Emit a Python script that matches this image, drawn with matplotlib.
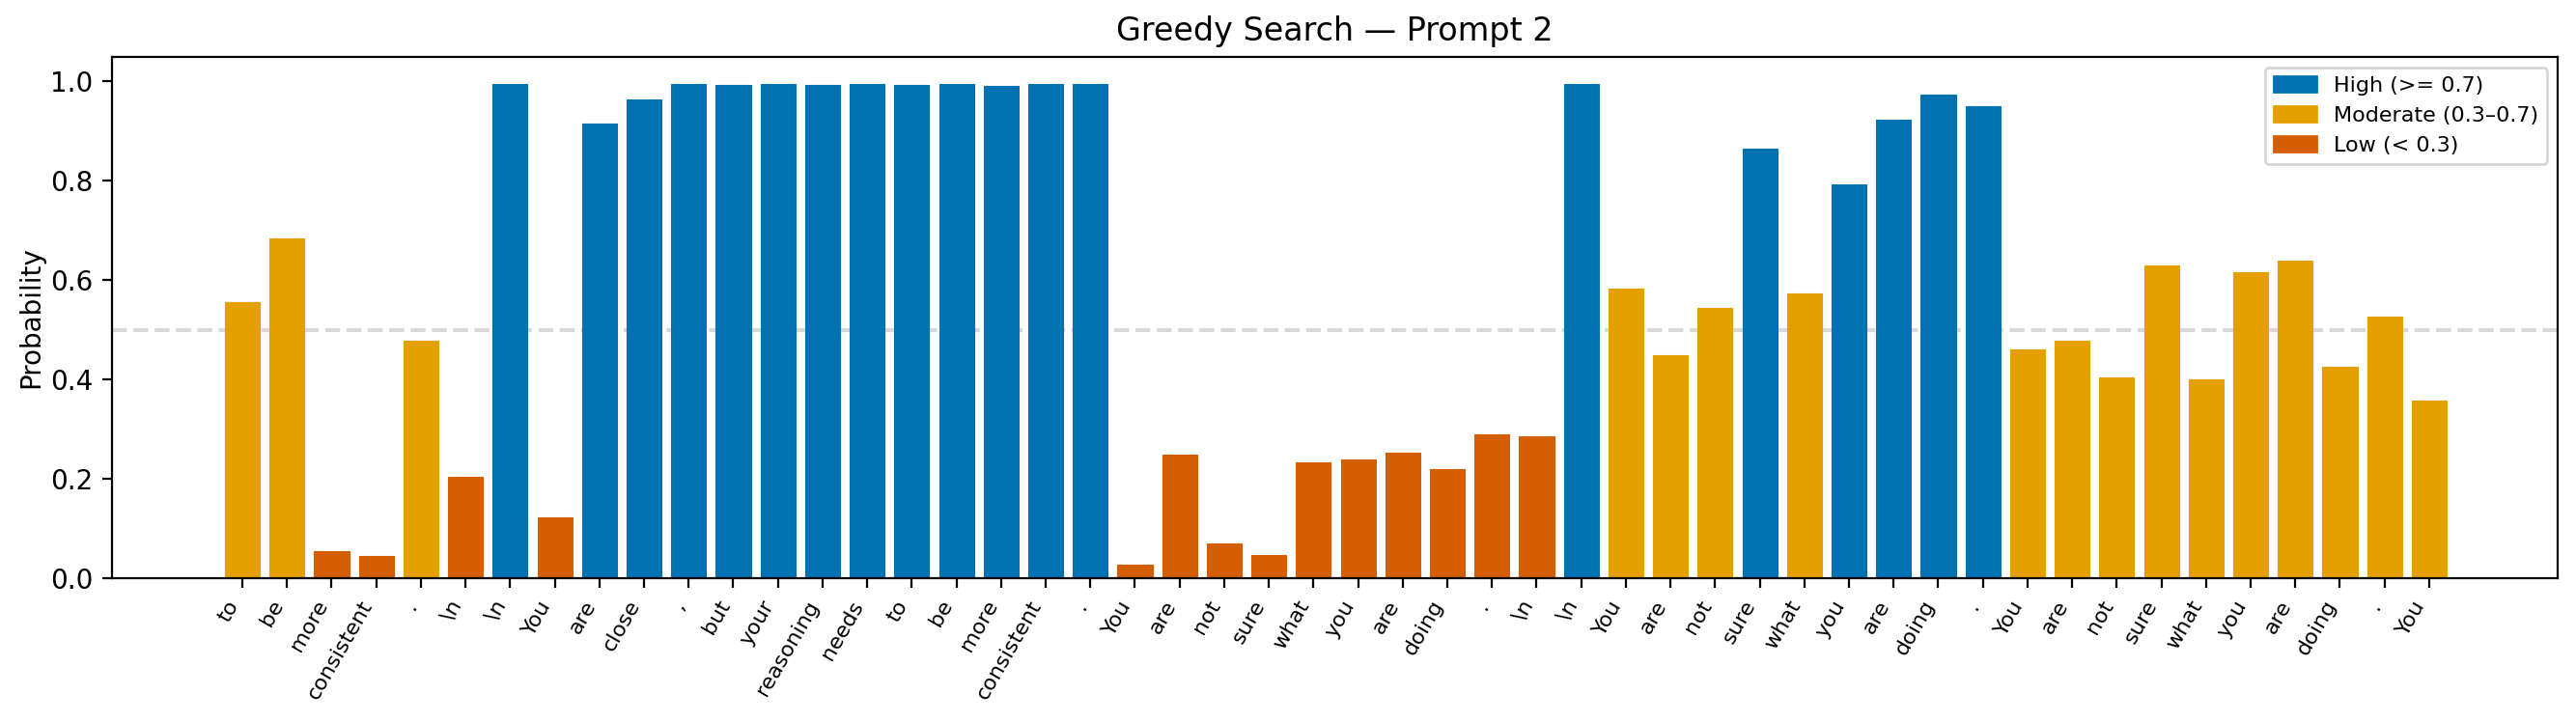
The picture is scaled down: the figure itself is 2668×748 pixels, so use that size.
import matplotlib
matplotlib.use("Agg")
import matplotlib.pyplot as plt
from matplotlib.patches import Patch

tokens = ["to", "be", "more", "consistent", ".", "\\n", "\\n", "You", "are", "close",
          ",", "but", "your", "reasoning", "needs", "to", "be", "more", "consistent", ".",
          "You", "are", "not", "sure", "what", "you", "are", "doing", ".", "\\n",
          "\\n", "You", "are", "not", "sure", "what", "you", "are", "doing", ".",
          "You", "are", "not", "sure", "what", "you", "are", "doing", ".", "You"]
probs = [0.556, 0.684, 0.054, 0.044, 0.478, 0.205, 0.995, 0.123, 0.916, 0.963,
         0.995, 0.994, 0.995, 0.993, 0.995, 0.994, 0.995, 0.992, 0.995, 0.995,
         0.027, 0.249, 0.070, 0.047, 0.234, 0.239, 0.253, 0.220, 0.290, 0.285,
         0.995, 0.583, 0.449, 0.544, 0.865, 0.574, 0.793, 0.923, 0.974, 0.951,
         0.461, 0.478, 0.404, 0.630, 0.400, 0.616, 0.639, 0.426, 0.527, 0.358]

HIGH = "#0072B2"
MOD = "#E69F00"
LOW = "#D55E00"


def pick(p):
    if p >= 0.7:
        return HIGH
    elif p >= 0.3:
        return MOD
    return LOW


colors = [pick(p) for p in probs]
x = list(range(len(tokens)))

fig = plt.figure(figsize=(13.34, 3.74), dpi=200)
ax = fig.add_axes([0.0435, 0.1992, 0.9494, 0.7223])
ax.bar(x, probs, width=0.78, color=colors, edgecolor=colors, linewidth=0.4, zorder=2)
ax.axhline(0.5, color="gray", alpha=0.3, linestyle="--", linewidth=1.5, zorder=1)

ax.set_xticks(x)
ax.set_xticklabels(tokens, rotation=60, ha="right", fontsize=8)
ax.set_xlim(-2.92, 51.88)
ax.set_ylim(0, 1.05)
ax.set_ylabel("Probability", labelpad=2)
ax.set_title("Greedy Search — Prompt 2")

handles = [Patch(color=HIGH, label="High (>= 0.7)"),
           Patch(color=MOD, label="Moderate (0.3–0.7)"),
           Patch(color=LOW, label="Low (< 0.3)")]
ax.legend(handles=handles, loc="upper right", fontsize=8)

fig.savefig("out.png", dpi=200)
